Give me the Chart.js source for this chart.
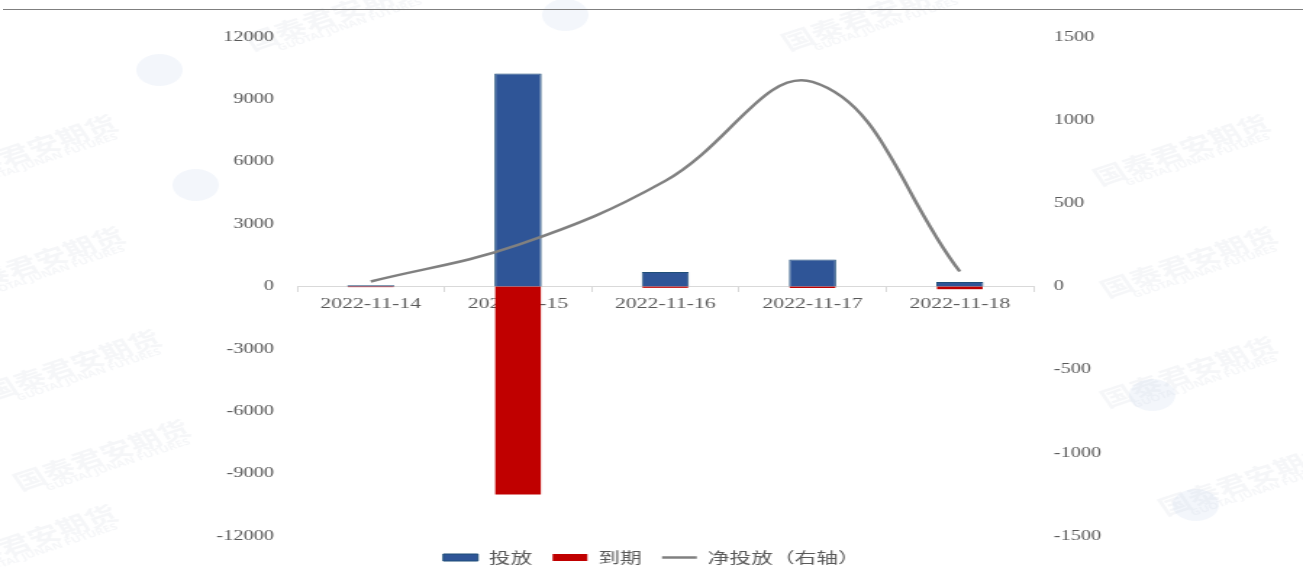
<!DOCTYPE html>
<html>
<head>
<meta charset="utf-8">
<script src="https://cdn.jsdelivr.net/npm/chart.js@4.4.0/dist/chart.umd.min.js"></script>
<style>
  html, body { margin: 0; padding: 0; background: #fff; }
  #topRule { position: absolute; left: 3px; top: 9px; width: 1300px; height: 1px; background: #7f7f7f; }
  #wrap { position: absolute; left: 0; top: 0; width: 899px; height: 587px; transform: scaleX(1.4494); transform-origin: 0 0; }
</style>
</head>
<body>
<div id="wrap"><canvas id="myChart" width="899" height="587"></canvas></div>
<div id="topRule"></div>
<script>
const dates = ["2022-11-14", "2022-11-15", "2022-11-16", "2022-11-17", "2022-11-18"];
const injection = [60, 10250, 700, 1300, 220];
const maturity = [-30, -10000, -65, -70, -130];
const netInjection = [30, 250, 635, 1230, 90];
const leftTicks = [-12000, -9000, -6000, -3000, 0, 3000, 6000, 9000, 12000];
const rightTicks = [-1500, -1000, -500, 0, 500, 1000, 1500];

const labelColor = "#595959";
const serif = "'Liberation Serif', 'Times New Roman', serif";

// faint company watermark behind the plot
const watermark = {
    id: "watermark",
    beforeDraw(chart) {
        const ctx = chart.ctx;
        const spots = [[20, 150], [25, 262], [50, 365], [70, 455], [20, 540],
                       [815, 150], [820, 262], [820, 372], [860, 480], [230, 15], [600, 15]];
        ctx.save();
        spots.forEach(([x, y]) => {
            ctx.save();
            ctx.translate(x, y);
            ctx.rotate(-0.45);
            ctx.fillStyle = "rgba(190, 198, 212, 0.16)";
            ctx.font = "bold 22px 'Noto Sans CJK SC', sans-serif";
            ctx.textAlign = "center";
            ctx.fillText("国泰君安期货", 0, 0);
            ctx.font = "bold 9px 'Noto Sans', sans-serif";
            ctx.fillText("GUOTAI JUNAN FUTURES", 6, 14);
            ctx.restore();
        });
        ctx.fillStyle = "rgba(200, 215, 235, 0.22)";
        [[110, 70], [135, 185], [390, 15], [795, 395], [825, 505]].forEach(([x, y]) => {
            ctx.beginPath();
            ctx.arc(x, y, 16, 0, Math.PI * 2);
            ctx.fill();
        });
        ctx.restore();
    }
};

const data = {
    labels: dates,
    datasets: [
        {
            type: "bar",
            label: "投放",
            data: injection,
            backgroundColor: "#2F5597",
            borderColor: "#1F4E79",
            borderWidth: 1,
            yAxisID: "y",
            grouped: false,
            barPercentage: 0.32,
            categoryPercentage: 1,
            pointStyle: "rect",
            order: 1
        },
        {
            type: "bar",
            label: "到期",
            data: maturity,
            backgroundColor: "#C00000",
            borderColor: "#C00000",
            borderWidth: 0,
            yAxisID: "y",
            grouped: false,
            barPercentage: 0.31,
            categoryPercentage: 1,
            pointStyle: "rect",
            order: 1
        },
        {
            type: "line",
            label: "净投放（右轴）",
            data: netInjection,
            borderColor: "#808080",
            backgroundColor: "#808080",
            borderWidth: 2.5,
            pointRadius: 0,
            pointStyle: "line",
            tension: 0.4,
            yAxisID: "y1",
            order: 0
        }
    ]
};

const config = {
    type: "bar",
    data: data,
    plugins: [watermark],
    options: {
        responsive: false,
        animation: false,
        layout: { padding: { top: 37, bottom: 12 } },
        plugins: {
            tooltip: { enabled: false },
            legend: {
                position: "bottom",
                labels: {
                    usePointStyle: true,
                    pointStyleWidth: 24,
                    boxHeight: 7,
                    padding: 14,
                    color: labelColor,
                    font: { size: 15, family: "'Noto Sans CJK SC', sans-serif" },
                    sort: (a, b) => a.datasetIndex - b.datasetIndex
                }
            }
        },
        scales: {
            x: {
                position: { y: 0 },
                offset: true,
                grid: { display: true, drawOnChartArea: false, drawTicks: true, tickLength: 5, color: "#D9D9D9", offset: true },
                border: { color: "#D9D9D9" },
                ticks: { color: labelColor, padding: 4, font: { size: 15, family: serif } }
            },
            y: {
                position: "left",
                min: -12000,
                max: 12000,
                afterBuildTicks: s => { s.ticks = leftTicks.map(v => ({ value: v })); },
                afterFit: s => { s.width = 205; },
                grid: { display: false, drawTicks: false },
                border: { display: false },
                ticks: { color: labelColor, padding: 16, font: { size: 14, family: serif }, callback: v => String(v) }
            },
            y1: {
                position: "right",
                min: -1500,
                max: 1500,
                afterBuildTicks: s => { s.ticks = rightTicks.map(v => ({ value: v })); },
                afterFit: s => { s.width = 186; },
                grid: { display: false, drawTicks: false },
                border: { display: false },
                ticks: { color: labelColor, padding: 14, font: { size: 14, family: serif }, callback: v => String(v) }
            }
        }
    }
};

const myChart = new Chart(document.getElementById("myChart"), config);
</script>
</body>
</html>
